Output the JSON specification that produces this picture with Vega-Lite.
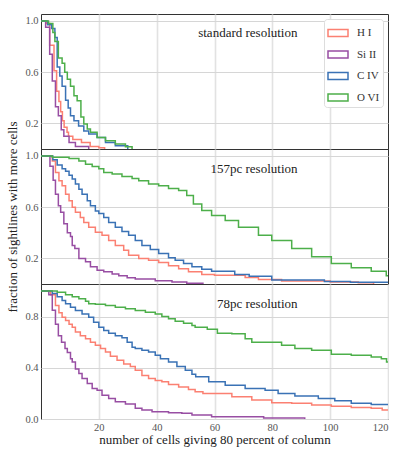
{
"$schema": "https://vega.github.io/schema/vega-lite/v6.json",
"padding": {"left": 6, "top": 13, "right": 0, "bottom": 4},
"spacing": 0,
"bounds": "flush",
"config": {
  "font": "Liberation Serif",
  "view": {"stroke": "#333", "strokeWidth": 1}
},
"datasets": {
"std": [
{"s":"H I","x":0,"y":1},{"s":"H I","x":2,"y":0.98},{"s":"H I","x":3,"y":0.81},{"s":"H I","x":4.5,"y":0.61},{"s":"H I","x":5.4,"y":0.45},{"s":"H I","x":6.2,"y":0.37},{"s":"H I","x":6.8,"y":0.29},{"s":"H I","x":7.4,"y":0.22},{"s":"H I","x":8,"y":0.17},{"s":"H I","x":9,"y":0.13},{"s":"H I","x":9.5,"y":0.1},{"s":"H I","x":11,"y":0.074},{"s":"H I","x":14,"y":0.05},{"s":"H I","x":17,"y":0.02},{"s":"H I","x":20,"y":0.01},{"s":"H I","x":22,"y":0},
{"s":"Si II","x":0,"y":1},{"s":"Si II","x":1.6,"y":0.95},{"s":"Si II","x":3,"y":0.74},{"s":"Si II","x":3.9,"y":0.53},{"s":"Si II","x":5,"y":0.33},{"s":"Si II","x":6,"y":0.26},{"s":"Si II","x":7,"y":0.15},{"s":"Si II","x":7.9,"y":0.1},{"s":"Si II","x":9.7,"y":0.05},{"s":"Si II","x":11.9,"y":0.02},{"s":"Si II","x":16.5,"y":0},
{"s":"C IV","x":0,"y":1},{"s":"C IV","x":2.3,"y":0.97},{"s":"C IV","x":3.7,"y":0.94},{"s":"C IV","x":4.8,"y":0.87},{"s":"C IV","x":5.6,"y":0.64},{"s":"C IV","x":6.5,"y":0.57},{"s":"C IV","x":7.3,"y":0.49},{"s":"C IV","x":8.5,"y":0.38},{"s":"C IV","x":9.4,"y":0.32},{"s":"C IV","x":10.2,"y":0.26},{"s":"C IV","x":11.4,"y":0.22},{"s":"C IV","x":13,"y":0.18},{"s":"C IV","x":14.8,"y":0.14},{"s":"C IV","x":16.5,"y":0.117},{"s":"C IV","x":19.4,"y":0.09},{"s":"C IV","x":22.3,"y":0.05},{"s":"C IV","x":25.7,"y":0.026},{"s":"C IV","x":30,"y":0},
{"s":"O VI","x":0,"y":1},{"s":"O VI","x":2.6,"y":0.98},{"s":"O VI","x":4.1,"y":0.91},{"s":"O VI","x":4.8,"y":0.84},{"s":"O VI","x":6,"y":0.71},{"s":"O VI","x":7.3,"y":0.67},{"s":"O VI","x":8.2,"y":0.6},{"s":"O VI","x":9.1,"y":0.545},{"s":"O VI","x":10.2,"y":0.49},{"s":"O VI","x":11.4,"y":0.415},{"s":"O VI","x":12.5,"y":0.376},{"s":"O VI","x":13.8,"y":0.25},{"s":"O VI","x":14.8,"y":0.195},{"s":"O VI","x":16,"y":0.156},{"s":"O VI","x":17.1,"y":0.13},{"s":"O VI","x":19.4,"y":0.09},{"s":"O VI","x":22.3,"y":0.065},{"s":"O VI","x":25.7,"y":0.04},{"s":"O VI","x":29.2,"y":0.018},{"s":"O VI","x":31.5,"y":0}
],
"p157": [
{"s":"H I","x":0,"y":1},{"s":"H I","x":3.9,"y":0.96},{"s":"H I","x":5,"y":0.87},{"s":"H I","x":6.2,"y":0.806},{"s":"H I","x":7.3,"y":0.767},{"s":"H I","x":8.5,"y":0.7},{"s":"H I","x":9.7,"y":0.65},{"s":"H I","x":10.8,"y":0.6},{"s":"H I","x":11.9,"y":0.56},{"s":"H I","x":13.6,"y":0.52},{"s":"H I","x":14.8,"y":0.48},{"s":"H I","x":16.5,"y":0.444},{"s":"H I","x":18.8,"y":0.405},{"s":"H I","x":21.1,"y":0.38},{"s":"H I","x":23.4,"y":0.34},{"s":"H I","x":25.7,"y":0.3},{"s":"H I","x":28.6,"y":0.264},{"s":"H I","x":30.3,"y":0.225},{"s":"H I","x":33.8,"y":0.2},{"s":"H I","x":37.2,"y":0.186},{"s":"H I","x":40.7,"y":0.168},{"s":"H I","x":44.1,"y":0.142},{"s":"H I","x":47.6,"y":0.12},{"s":"H I","x":51,"y":0.095},{"s":"H I","x":55.6,"y":0.075},{"s":"H I","x":60,"y":0.068},{"s":"H I","x":70.6,"y":0.05},{"s":"H I","x":75.2,"y":0.035},{"s":"H I","x":83.2,"y":0.023},{"s":"H I","x":100,"y":0.015},{"s":"H I","x":109.7,"y":0.01},{"s":"H I","x":115,"y":0},
{"s":"Si II","x":0,"y":1},{"s":"Si II","x":3.1,"y":0.92},{"s":"Si II","x":4.2,"y":0.81},{"s":"Si II","x":5,"y":0.7},{"s":"Si II","x":6,"y":0.61},{"s":"Si II","x":6.8,"y":0.56},{"s":"Si II","x":7.9,"y":0.47},{"s":"Si II","x":9.1,"y":0.4},{"s":"Si II","x":10.2,"y":0.37},{"s":"Si II","x":10.8,"y":0.3},{"s":"Si II","x":11.7,"y":0.277},{"s":"Si II","x":13.1,"y":0.2},{"s":"Si II","x":15.4,"y":0.173},{"s":"Si II","x":17.1,"y":0.134},{"s":"Si II","x":19.4,"y":0.108},{"s":"Si II","x":21.7,"y":0.095},{"s":"Si II","x":24.6,"y":0.078},{"s":"Si II","x":26.9,"y":0.064},{"s":"Si II","x":29.8,"y":0.049},{"s":"Si II","x":32.6,"y":0.04},{"s":"Si II","x":39.5,"y":0.026},{"s":"Si II","x":45.3,"y":0.015},{"s":"Si II","x":50.4,"y":0.005},{"s":"Si II","x":56,"y":0},
{"s":"C IV","x":0,"y":1},{"s":"C IV","x":4.1,"y":0.97},{"s":"C IV","x":5.6,"y":0.93},{"s":"C IV","x":7.3,"y":0.9},{"s":"C IV","x":8.5,"y":0.88},{"s":"C IV","x":9.7,"y":0.85},{"s":"C IV","x":10.8,"y":0.82},{"s":"C IV","x":11.9,"y":0.78},{"s":"C IV","x":13.1,"y":0.74},{"s":"C IV","x":14.2,"y":0.7},{"s":"C IV","x":16,"y":0.65},{"s":"C IV","x":17.1,"y":0.61},{"s":"C IV","x":18.8,"y":0.57},{"s":"C IV","x":20,"y":0.55},{"s":"C IV","x":21.7,"y":0.52},{"s":"C IV","x":23.4,"y":0.48},{"s":"C IV","x":25.7,"y":0.444},{"s":"C IV","x":28,"y":0.41},{"s":"C IV","x":30.3,"y":0.38},{"s":"C IV","x":32.6,"y":0.34},{"s":"C IV","x":34.9,"y":0.3},{"s":"C IV","x":37.8,"y":0.27},{"s":"C IV","x":40.7,"y":0.238},{"s":"C IV","x":44.1,"y":0.204},{"s":"C IV","x":46.4,"y":0.186},{"s":"C IV","x":49.3,"y":0.16},{"s":"C IV","x":52.2,"y":0.134},{"s":"C IV","x":55.6,"y":0.116},{"s":"C IV","x":59,"y":0.1},{"s":"C IV","x":67,"y":0.075},{"s":"C IV","x":72,"y":0.06},{"s":"C IV","x":79.8,"y":0.031},{"s":"C IV","x":98,"y":0.02},{"s":"C IV","x":107,"y":0.013},{"s":"C IV","x":120,"y":0.01},
{"s":"O VI","x":0,"y":1},{"s":"O VI","x":3.9,"y":0.99},{"s":"O VI","x":9.7,"y":0.98},{"s":"O VI","x":13.1,"y":0.96},{"s":"O VI","x":15.4,"y":0.935},{"s":"O VI","x":17.7,"y":0.917},{"s":"O VI","x":20,"y":0.9},{"s":"O VI","x":21.7,"y":0.87},{"s":"O VI","x":24.6,"y":0.858},{"s":"O VI","x":28,"y":0.84},{"s":"O VI","x":31.5,"y":0.824},{"s":"O VI","x":33.8,"y":0.806},{"s":"O VI","x":37.2,"y":0.78},{"s":"O VI","x":40.7,"y":0.767},{"s":"O VI","x":44.1,"y":0.746},{"s":"O VI","x":47.6,"y":0.73},{"s":"O VI","x":50.4,"y":0.69},{"s":"O VI","x":52.7,"y":0.625},{"s":"O VI","x":55.6,"y":0.574},{"s":"O VI","x":59,"y":0.535},{"s":"O VI","x":63.7,"y":0.496},{"s":"O VI","x":68.3,"y":0.444},{"s":"O VI","x":75.2,"y":0.38},{"s":"O VI","x":79.8,"y":0.34},{"s":"O VI","x":86.7,"y":0.277},{"s":"O VI","x":93.6,"y":0.212},{"s":"O VI","x":100.4,"y":0.16},{"s":"O VI","x":107.3,"y":0.126},{"s":"O VI","x":114.2,"y":0.1},{"s":"O VI","x":119.4,"y":0.064},{"s":"O VI","x":120,"y":0.064}
],
"p78": [
{"s":"H I","x":0,"y":1},{"s":"H I","x":3.3,"y":0.97},{"s":"H I","x":5,"y":0.886},{"s":"H I","x":6.2,"y":0.83},{"s":"H I","x":7.3,"y":0.795},{"s":"H I","x":8.5,"y":0.77},{"s":"H I","x":9.7,"y":0.74},{"s":"H I","x":10.8,"y":0.717},{"s":"H I","x":11.9,"y":0.68},{"s":"H I","x":13.6,"y":0.65},{"s":"H I","x":15.4,"y":0.627},{"s":"H I","x":17.1,"y":0.6},{"s":"H I","x":18.8,"y":0.575},{"s":"H I","x":20.6,"y":0.55},{"s":"H I","x":22.3,"y":0.523},{"s":"H I","x":24,"y":0.49},{"s":"H I","x":26.3,"y":0.458},{"s":"H I","x":28.6,"y":0.43},{"s":"H I","x":30.9,"y":0.41},{"s":"H I","x":32.6,"y":0.38},{"s":"H I","x":34.9,"y":0.34},{"s":"H I","x":37.2,"y":0.316},{"s":"H I","x":39.5,"y":0.3},{"s":"H I","x":41.8,"y":0.29},{"s":"H I","x":44.1,"y":0.27},{"s":"H I","x":47.6,"y":0.25},{"s":"H I","x":51,"y":0.23},{"s":"H I","x":53.3,"y":0.212},{"s":"H I","x":56,"y":0.2},{"s":"H I","x":66,"y":0.173},{"s":"H I","x":72.9,"y":0.148},{"s":"H I","x":79.8,"y":0.127},{"s":"H I","x":86.7,"y":0.122},{"s":"H I","x":93.6,"y":0.109},{"s":"H I","x":100.4,"y":0.1},{"s":"H I","x":107.3,"y":0.09},{"s":"H I","x":114.2,"y":0.083},{"s":"H I","x":118,"y":0.07},{"s":"H I","x":120,"y":0.07},
{"s":"Si II","x":0,"y":1},{"s":"Si II","x":2.7,"y":0.97},{"s":"Si II","x":3.9,"y":0.85},{"s":"Si II","x":5,"y":0.74},{"s":"Si II","x":6,"y":0.65},{"s":"Si II","x":7.1,"y":0.6},{"s":"Si II","x":8.3,"y":0.55},{"s":"Si II","x":9.1,"y":0.52},{"s":"Si II","x":10.2,"y":0.47},{"s":"Si II","x":10.8,"y":0.445},{"s":"Si II","x":11.9,"y":0.39},{"s":"Si II","x":13.1,"y":0.355},{"s":"Si II","x":14.2,"y":0.316},{"s":"Si II","x":16,"y":0.277},{"s":"Si II","x":17.7,"y":0.238},{"s":"Si II","x":19.4,"y":0.225},{"s":"Si II","x":21.1,"y":0.186},{"s":"Si II","x":23.4,"y":0.16},{"s":"Si II","x":25.7,"y":0.134},{"s":"Si II","x":29.2,"y":0.117},{"s":"Si II","x":32.6,"y":0.083},{"s":"Si II","x":34.9,"y":0.07},{"s":"Si II","x":38.4,"y":0.056},{"s":"Si II","x":44.1,"y":0.049},{"s":"Si II","x":48.7,"y":0.044},{"s":"Si II","x":52.2,"y":0.031},{"s":"Si II","x":59,"y":0.018},{"s":"Si II","x":77,"y":0.008},{"s":"Si II","x":91.2,"y":0},
{"s":"C IV","x":0,"y":1},{"s":"C IV","x":3.9,"y":0.98},{"s":"C IV","x":5.6,"y":0.955},{"s":"C IV","x":7.3,"y":0.925},{"s":"C IV","x":8.5,"y":0.9},{"s":"C IV","x":10.2,"y":0.873},{"s":"C IV","x":11.9,"y":0.847},{"s":"C IV","x":14.2,"y":0.82},{"s":"C IV","x":16.5,"y":0.795},{"s":"C IV","x":18.2,"y":0.756},{"s":"C IV","x":20,"y":0.717},{"s":"C IV","x":21.7,"y":0.69},{"s":"C IV","x":23.4,"y":0.67},{"s":"C IV","x":25.7,"y":0.65},{"s":"C IV","x":28,"y":0.635},{"s":"C IV","x":29.8,"y":0.6},{"s":"C IV","x":31.5,"y":0.56},{"s":"C IV","x":32.6,"y":0.55},{"s":"C IV","x":34.9,"y":0.536},{"s":"C IV","x":37.2,"y":0.523},{"s":"C IV","x":39.5,"y":0.497},{"s":"C IV","x":41.3,"y":0.47},{"s":"C IV","x":44.1,"y":0.445},{"s":"C IV","x":47,"y":0.41},{"s":"C IV","x":49.9,"y":0.38},{"s":"C IV","x":52.2,"y":0.35},{"s":"C IV","x":53.5,"y":0.33},{"s":"C IV","x":58,"y":0.29},{"s":"C IV","x":63.7,"y":0.264},{"s":"C IV","x":70.6,"y":0.238},{"s":"C IV","x":77.5,"y":0.225},{"s":"C IV","x":82,"y":0.2},{"s":"C IV","x":87.8,"y":0.179},{"s":"C IV","x":95.9,"y":0.16},{"s":"C IV","x":101.6,"y":0.142},{"s":"C IV","x":107.3,"y":0.122},{"s":"C IV","x":114.2,"y":0.114},{"s":"C IV","x":120,"y":0.114},
{"s":"O VI","x":0,"y":1},{"s":"O VI","x":5.6,"y":0.99},{"s":"O VI","x":8.5,"y":0.97},{"s":"O VI","x":10.8,"y":0.955},{"s":"O VI","x":13.1,"y":0.938},{"s":"O VI","x":15.4,"y":0.92},{"s":"O VI","x":16.5,"y":0.9},{"s":"O VI","x":18.8,"y":0.895},{"s":"O VI","x":22.3,"y":0.886},{"s":"O VI","x":25.7,"y":0.873},{"s":"O VI","x":29.2,"y":0.86},{"s":"O VI","x":32.6,"y":0.847},{"s":"O VI","x":36.1,"y":0.834},{"s":"O VI","x":39.5,"y":0.82},{"s":"O VI","x":41.8,"y":0.8},{"s":"O VI","x":44.1,"y":0.782},{"s":"O VI","x":46.4,"y":0.764},{"s":"O VI","x":49.3,"y":0.748},{"s":"O VI","x":52.2,"y":0.73},{"s":"O VI","x":53.3,"y":0.717},{"s":"O VI","x":57.5,"y":0.7},{"s":"O VI","x":61,"y":0.67},{"s":"O VI","x":66,"y":0.666},{"s":"O VI","x":70.6,"y":0.627},{"s":"O VI","x":72.9,"y":0.6},{"s":"O VI","x":83.2,"y":0.575},{"s":"O VI","x":87.8,"y":0.55},{"s":"O VI","x":93.6,"y":0.536},{"s":"O VI","x":100.4,"y":0.505},{"s":"O VI","x":107.3,"y":0.497},{"s":"O VI","x":114.2,"y":0.484},{"s":"O VI","x":117.7,"y":0.47},{"s":"O VI","x":119.5,"y":0.445},{"s":"O VI","x":120,"y":0.445}
]
},
"resolve": {"legend": {"color": "independent"}, "axis": {"x": "independent", "y": "independent"}},
"vconcat": [
{
  "width": 347, "height": 135,
  "layer": [
    {
      "data": {"name": "std"},
      "mark": {"type": "line", "interpolate": "step-after", "strokeWidth": 1.5, "clip": true},
      "encoding": {
        "x": {"field": "x", "type": "quantitative", "scale": {"domain": [0, 120], "nice": false}, "axis": {"labels": false, "title": null, "ticks": false, "domain": false, "values": [20, 40, 60, 80, 100], "gridColor": "#e2e2e2", "gridWidth": 1.6}},
        "y": {"field": "y", "type": "quantitative", "scale": {"domain": [0, 1.054], "nice": false}, "axis": {"values": [0.2, 0.4, 0.6, 0.8, 1.0], "labelExpr": "format(datum.value, '.1f')", "title": null, "labelFont": "Liberation Serif", "labelFontSize": 10.5, "labelColor": "#555", "labelOverlap": false, "labelSeparation": 0, "ticks": false, "domain": false, "labelPadding": 3, "gridColor": "#d6d6d6"}},
        "color": {"field": "s", "type": "nominal", "scale": {"domain": ["H I", "Si II", "C IV", "O VI"], "range": ["#fb8072", "#984ea3", "#3a72b5", "#4daf4a"]},
          "legend": {"title": null, "orient": "top-right", "offset": 5, "padding": 3, "symbolType": "M-1,-0.35H1V0.35H-1Z", "symbolSize": 400, "symbolStrokeWidth": 1.5, "labelFont": "Liberation Serif", "labelFontSize": 11, "labelColor": "#333", "labelOffset": 8, "rowPadding": 3.5, "fillColor": "white", "strokeColor": "#dddddd", "cornerRadius": 3}}
      }
    },
    {
      "data": {"values": [{"t": "standard resolution"}]},
      "mark": {"type": "text", "align": "right", "baseline": "middle", "fontSize": 13, "font": "Liberation Serif", "color": "#222"},
      "encoding": {"x": {"datum": 88.7, "type": "quantitative"}, "y": {"datum": 0.905, "type": "quantitative"}, "text": {"field": "t"}}
    }
  ]
},
{
  "width": 347, "height": 135,
  "layer": [
    {
      "data": {"name": "p157"},
      "mark": {"type": "line", "interpolate": "step-after", "strokeWidth": 1.5, "clip": true},
      "encoding": {
        "x": {"field": "x", "type": "quantitative", "scale": {"domain": [0, 120], "nice": false}, "axis": {"labels": false, "title": null, "ticks": false, "domain": false, "values": [20, 40, 60, 80, 100], "gridColor": "#e2e2e2", "gridWidth": 1.6}},
        "y": {"field": "y", "type": "quantitative", "scale": {"domain": [0, 1.054], "nice": false}, "axis": {"values": [0.2, 0.4, 0.6, 0.8, 1.0], "labelExpr": "format(datum.value, '.1f')", "labelFont": "Liberation Serif", "labelFontSize": 10.5, "labelColor": "#555", "labelOverlap": false, "labelSeparation": 0, "ticks": false, "domain": false, "labelPadding": 3, "gridColor": "#d6d6d6", "title": "fraction of sightlines with more cells", "titleFont": "Liberation Serif", "titleFontSize": 13, "titleFontWeight": "normal", "titleColor": "#222", "titlePadding": 5}},
        "color": {"field": "s", "type": "nominal", "scale": {"domain": ["H I", "Si II", "C IV", "O VI"], "range": ["#fb8072", "#984ea3", "#3a72b5", "#4daf4a"]}, "legend": null}
      }
    },
    {
      "data": {"values": [{"t": "157pc resolution"}]},
      "mark": {"type": "text", "align": "right", "baseline": "middle", "fontSize": 13, "font": "Liberation Serif", "color": "#222"},
      "encoding": {"x": {"datum": 88.7, "type": "quantitative"}, "y": {"datum": 0.9, "type": "quantitative"}, "text": {"field": "t"}}
    }
  ]
},
{
  "width": 347, "height": 135,
  "layer": [
    {
      "data": {"name": "p78"},
      "mark": {"type": "line", "interpolate": "step-after", "strokeWidth": 1.5, "clip": true},
      "encoding": {
        "x": {"field": "x", "type": "quantitative", "scale": {"domain": [0, 120], "nice": false}, "axis": {"title": "number of cells giving 80 percent of column", "values": [20, 40, 60, 80, 100, 120], "ticks": false, "domain": false, "labelFont": "Liberation Serif", "labelFontSize": 10.5, "labelColor": "#555", "labelOverlap": false, "labelPadding": 3, "gridColor": "#e2e2e2", "gridWidth": 1.6, "titleFont": "Liberation Serif", "titleFontSize": 13, "titleFontWeight": "normal", "titleColor": "#222", "titlePadding": 1}},
        "y": {"field": "y", "type": "quantitative", "scale": {"domain": [0, 1.054], "nice": false}, "axis": {"values": [0, 0.2, 0.4, 0.6, 0.8, 1.0], "labelExpr": "format(datum.value, '.1f')", "title": null, "labelFont": "Liberation Serif", "labelFontSize": 10.5, "labelColor": "#555", "labelOverlap": false, "labelSeparation": 0, "ticks": false, "domain": false, "labelPadding": 3, "gridColor": "#d6d6d6"}},
        "color": {"field": "s", "type": "nominal", "scale": {"domain": ["H I", "Si II", "C IV", "O VI"], "range": ["#fb8072", "#984ea3", "#3a72b5", "#4daf4a"]}, "legend": null}
      }
    },
    {
      "data": {"values": [{"t": "78pc resolution"}]},
      "mark": {"type": "text", "align": "right", "baseline": "middle", "fontSize": 13, "font": "Liberation Serif", "color": "#222"},
      "encoding": {"x": {"datum": 88.7, "type": "quantitative"}, "y": {"datum": 0.9, "type": "quantitative"}, "text": {"field": "t"}}
    }
  ]
}
]
}
